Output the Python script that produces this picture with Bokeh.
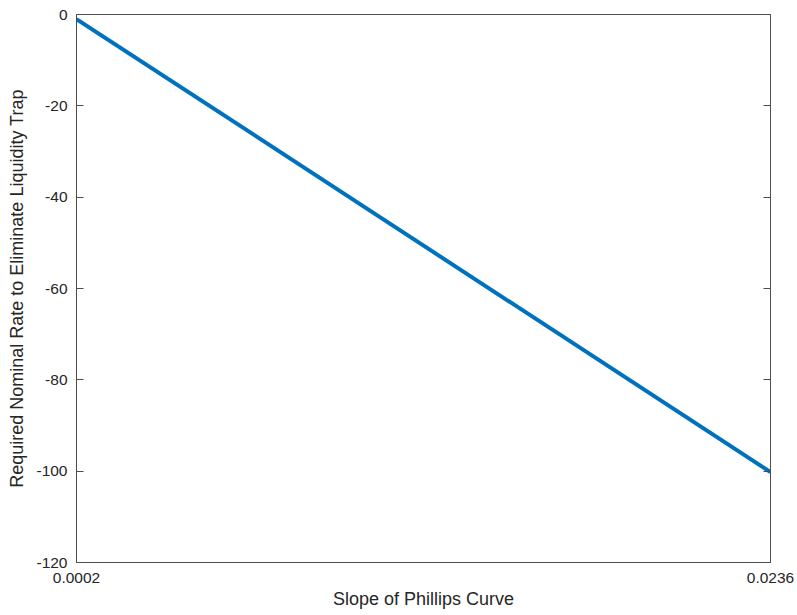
from bokeh.plotting import figure
from bokeh.models import Range1d, LinearAxis, FixedTicker
from bokeh.embed import file_html
from bokeh.resources import INLINE

slope = [0.0002, 0.0236]
rate = [-1.0, -100.2]
x_ticks = [0.0002, 0.0236]
x_tick_labels = ["0.0002", "0.0236"]
y_ticks = [-120, -100, -80, -60, -40, -20, 0]
y_tick_labels = ["-120", "-100", "-80", "-60", "-40", "-20", "0"]

FONT = "Liberation Sans"
AX = "#4d4d4d"
TXT = "#262626"

p = figure(width=797, height=615, output_backend="svg", toolbar_location=None,
           x_range=Range1d(0.0002, 0.0236), y_range=Range1d(-120, 0),
           min_border_left=76, min_border_right=27, min_border_top=14, min_border_bottom=53)
p.grid.visible = False
p.outline_line_color = None
p.background_fill_color = "white"
p.border_fill_color = "white"

p.line(slope, rate, line_color="#0072BD", line_width=4)

for ax in (p.xaxis[0], p.yaxis[0]):
    ax.major_tick_in = 7
    ax.major_tick_out = 0
    ax.minor_tick_in = 0
    ax.minor_tick_out = 0
    ax.axis_line_color = AX
    ax.major_tick_line_color = AX
    ax.major_label_text_font = FONT
    ax.major_label_text_font_size = "15.5px"
    ax.major_label_text_color = TXT
    ax.axis_label_text_font = FONT
    ax.axis_label_text_font_size = "18px"
    ax.axis_label_text_font_style = "normal"
    ax.axis_label_text_color = TXT

p.xaxis.ticker = FixedTicker(ticks=x_ticks)
p.yaxis.ticker = FixedTicker(ticks=y_ticks)
p.xaxis.major_label_overrides = dict(zip(x_ticks, x_tick_labels))
p.yaxis.major_label_overrides = dict(zip(y_ticks, y_tick_labels))
p.xaxis.axis_label = "Slope of Phillips Curve"
p.yaxis.axis_label = "Required Nominal Rate to Eliminate Liquidity Trap"
p.xaxis.major_label_standoff = 10
p.yaxis.major_label_standoff = 9
p.xaxis.axis_label_standoff = 3
p.yaxis.axis_label_standoff = 6

top = LinearAxis(ticker=FixedTicker(ticks=x_ticks), major_label_text_font_size="0px",
                 major_tick_in=7, major_tick_out=0, minor_tick_in=0, minor_tick_out=0,
                 axis_line_color=AX, major_tick_line_color=AX)
top.major_label_text_alpha = 0
right = LinearAxis(ticker=FixedTicker(ticks=y_ticks), major_label_text_font_size="0px",
                   major_tick_in=7, major_tick_out=0, minor_tick_in=0, minor_tick_out=0,
                   axis_line_color=AX, major_tick_line_color=AX)
right.major_label_text_alpha = 0
p.add_layout(top, "above")
p.add_layout(right, "right")

open("out.html", "w").write(file_html(p, INLINE))
